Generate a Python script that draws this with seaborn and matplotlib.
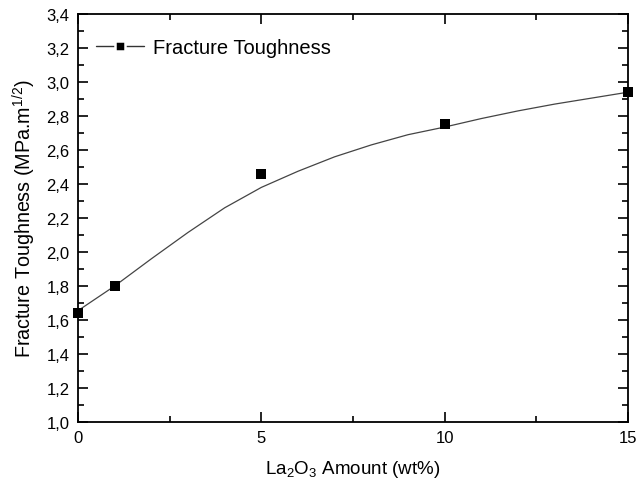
import numpy as np
import pandas as pd
import matplotlib
matplotlib.use('Agg')
import matplotlib.pyplot as plt
import matplotlib.ticker as mtick
from matplotlib.lines import Line2D
import seaborn as sns

# ── Data ─────────────────────────────────────────────────────
la2o3_wt = [0, 1, 5, 10, 15]
toughness = [1.64, 1.80, 2.46, 2.75, 2.94]

# fitted curve
fit_x = [0, 1, 2, 3, 4, 5, 6, 7, 8, 9, 10, 11, 12, 13, 14, 15]
fit_y = [1.655, 1.80, 1.96, 2.115, 2.26, 2.38, 2.475, 2.56, 2.63, 2.69,
         2.735, 2.785, 2.83, 2.87, 2.905, 2.94]

x_ticks = [0, 5, 10, 15]
y_ticks = [1.0, 1.2, 1.4, 1.6, 1.8, 2.0, 2.2, 2.4, 2.6, 2.8, 3.0, 3.2, 3.4]

sns.set_theme(style='ticks')
plt.rcParams.update({
    'font.family': ['Liberation Sans', 'DejaVu Sans'],
    'mathtext.fontset': 'custom',
    'mathtext.rm': 'Liberation Sans',
    'mathtext.it': 'Liberation Sans:italic',
    'mathtext.bf': 'Liberation Sans:bold',
    'axes.linewidth': 1.3,
    'text.color': 'black',
    'axes.labelcolor': 'black',
    'xtick.color': 'black',
    'ytick.color': 'black',
})

fig = plt.figure(figsize=(6.43, 4.85), dpi=100)
ax = fig.add_axes([0.1213, 0.1278, 0.8554, 0.8413])

df_fit = pd.DataFrame({'x': fit_x, 'y': fit_y})
df_pts = pd.DataFrame({'x': la2o3_wt, 'y': toughness})

sns.lineplot(data=df_fit, x='x', y='y', ax=ax, color='#444444', lw=0.9)
sns.scatterplot(data=df_pts, x='x', y='y', ax=ax, marker='s', s=55,
                color='black', edgecolor='black', linewidth=0, zorder=3,
                clip_on=False)

ax.set_xlim(0, 15)
ax.set_ylim(1.0, 3.4)
ax.set_xticks(x_ticks)
ax.set_yticks(y_ticks)
ax.xaxis.set_minor_locator(mtick.MultipleLocator(2.5))
ax.yaxis.set_minor_locator(mtick.MultipleLocator(0.1))
ax.yaxis.set_major_formatter(
    mtick.FuncFormatter(lambda v, p: f'{v:.1f}'.replace('.', ',')))
ax.tick_params(which='both', direction='in', top=True, right=True,
               colors='black', labelsize=12, width=1.2)
ax.tick_params(which='major', length=7, pad=6)
ax.tick_params(which='minor', length=4)
for s in ax.spines.values():
    s.set_color('black')

ax.set_xlabel('La$_2$O$_3$ Amount (wt%)', fontsize=13.5, labelpad=9)
ax.set_ylabel('Fracture Toughness (MPa.m$^{1/2}$)', fontsize=14.2, labelpad=6)

handle = Line2D([], [], color='#333333', lw=1.0, marker='s',
                markersize=6.5, markerfacecolor='black',
                markeredgecolor='white', markeredgewidth=1.8)
ax.legend([handle], ['Fracture Toughness'], loc='upper left', frameon=False,
          fontsize=14.5, bbox_to_anchor=(0.0, 0.985), handlelength=2.4,
          handletextpad=0.4, labelcolor='black')

fig.savefig('out.png', dpi=100)
